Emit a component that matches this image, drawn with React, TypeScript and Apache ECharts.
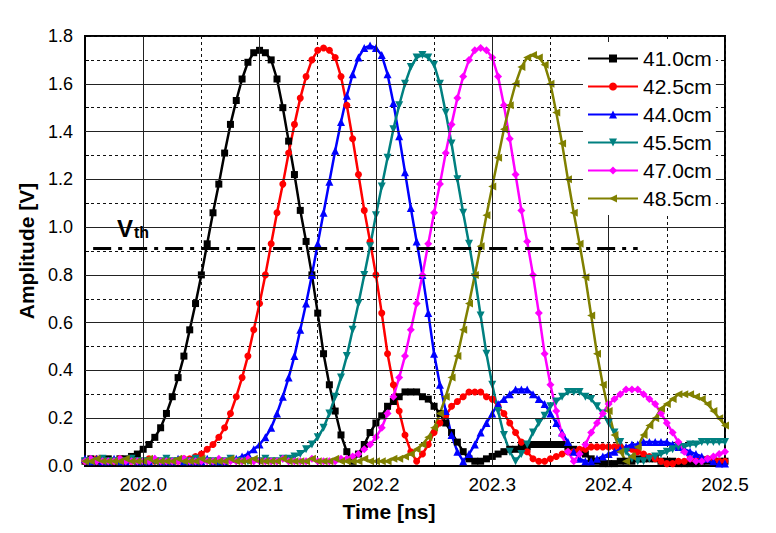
import React, { useEffect, useRef } from "react";
import * as echarts from "echarts";

// sampling grid [ns]
const times = [
  201.95, 201.955, 201.96, 201.965, 201.97, 201.975, 201.98, 201.985, 201.99, 201.995,
  202.0, 202.005, 202.01, 202.015, 202.02, 202.025, 202.03, 202.035, 202.04, 202.045,
  202.05, 202.055, 202.06, 202.065, 202.07, 202.075, 202.08, 202.085, 202.09, 202.095,
  202.1, 202.105, 202.11, 202.115, 202.12, 202.125, 202.13, 202.135, 202.14, 202.145,
  202.15, 202.155, 202.16, 202.165, 202.17, 202.175, 202.18, 202.185, 202.19, 202.195,
  202.2, 202.205, 202.21, 202.215, 202.22, 202.225, 202.23, 202.235, 202.24, 202.245,
  202.25, 202.255, 202.26, 202.265, 202.27, 202.275, 202.28, 202.285, 202.29, 202.295,
  202.3, 202.305, 202.31, 202.315, 202.32, 202.325, 202.33, 202.335, 202.34, 202.345,
  202.35, 202.355, 202.36, 202.365, 202.37, 202.375, 202.38, 202.385, 202.39, 202.395,
  202.4, 202.405, 202.41, 202.415, 202.42, 202.425, 202.43, 202.435, 202.44, 202.445,
  202.45, 202.455, 202.46, 202.465, 202.47, 202.475, 202.48, 202.485, 202.49, 202.495,
  202.5,
];

const amp410 = [
  0.02, 0.03, 0.02, 0.02, 0.03, 0.02, 0.03, 0.03, 0.04, 0.05,
  0.07, 0.09, 0.12, 0.16, 0.22, 0.29, 0.37, 0.46, 0.57, 0.68,
  0.80, 0.93, 1.06, 1.18, 1.31, 1.43, 1.53, 1.62, 1.69, 1.73,
  1.74, 1.73, 1.70, 1.62, 1.50, 1.36, 1.22, 1.07, 0.94, 0.80,
  0.64, 0.47, 0.34, 0.23, 0.13, 0.06, 0.02, 0.05, 0.09, 0.14,
  0.18, 0.21, 0.25, 0.27, 0.29, 0.31, 0.31, 0.31, 0.29, 0.28,
  0.25, 0.22, 0.18, 0.14, 0.10, 0.06, 0.03, 0.02, 0.02, 0.03,
  0.04, 0.05, 0.06, 0.07, 0.07, 0.08, 0.08, 0.09, 0.09, 0.09,
  0.09, 0.09, 0.09, 0.08, 0.07, 0.06, 0.05, 0.03, 0.02, 0.01,
  0.01, 0.01, 0.02, 0.02, 0.02, 0.03, 0.03, 0.03, 0.03, 0.02,
  0.02, 0.02, 0.01, 0.01, 0.01, 0.01, 0.02, 0.02, 0.02, 0.02,
  0.02,
];

const amp425 = [
  0.02, 0.02, 0.03, 0.02, 0.02, 0.02, 0.03, 0.02, 0.02, 0.02,
  0.02, 0.03, 0.02, 0.02, 0.02, 0.02, 0.02, 0.03, 0.03, 0.04,
  0.05, 0.07, 0.09, 0.12, 0.16, 0.22, 0.29, 0.37, 0.46, 0.57,
  0.68, 0.80, 0.93, 1.06, 1.18, 1.31, 1.43, 1.54, 1.63, 1.70,
  1.74, 1.75, 1.74, 1.71, 1.63, 1.51, 1.37, 1.22, 1.07, 0.94,
  0.80, 0.64, 0.47, 0.34, 0.23, 0.13, 0.06, 0.02, 0.05, 0.09,
  0.14, 0.18, 0.21, 0.25, 0.27, 0.29, 0.31, 0.31, 0.31, 0.29,
  0.28, 0.25, 0.22, 0.18, 0.14, 0.10, 0.06, 0.03, 0.02, 0.02,
  0.03, 0.04, 0.05, 0.06, 0.06, 0.07, 0.07, 0.08, 0.08, 0.08,
  0.08, 0.08, 0.08, 0.07, 0.07, 0.06, 0.05, 0.04, 0.03, 0.02,
  0.01, 0.01, 0.02, 0.02, 0.03, 0.03, 0.03, 0.03, 0.03, 0.02,
  0.02,
];

const amp440 = [
  0.03, 0.02, 0.03, 0.02, 0.02, 0.03, 0.02, 0.02, 0.03, 0.02,
  0.02, 0.02, 0.03, 0.02, 0.02, 0.02, 0.03, 0.02, 0.02, 0.02,
  0.02, 0.03, 0.02, 0.02, 0.02, 0.03, 0.03, 0.04, 0.05, 0.07,
  0.09, 0.12, 0.16, 0.22, 0.29, 0.37, 0.46, 0.57, 0.68, 0.80,
  0.93, 1.06, 1.19, 1.32, 1.44, 1.55, 1.64, 1.71, 1.75, 1.76,
  1.75, 1.72, 1.64, 1.52, 1.38, 1.23, 1.08, 0.94, 0.80, 0.64,
  0.47, 0.34, 0.23, 0.13, 0.06, 0.02, 0.05, 0.09, 0.14, 0.18,
  0.22, 0.26, 0.28, 0.30, 0.32, 0.32, 0.32, 0.30, 0.28, 0.26,
  0.22, 0.18, 0.14, 0.10, 0.06, 0.03, 0.02, 0.02, 0.03, 0.04,
  0.05, 0.06, 0.07, 0.08, 0.09, 0.09, 0.10, 0.10, 0.10, 0.10,
  0.10, 0.09, 0.08, 0.07, 0.06, 0.05, 0.04, 0.03, 0.02, 0.01,
  0.01,
];

const amp455 = [
  0.02, 0.02, 0.02, 0.03, 0.02, 0.02, 0.02, 0.02, 0.03, 0.02,
  0.02, 0.02, 0.02, 0.02, 0.03, 0.02, 0.02, 0.02, 0.02, 0.03,
  0.02, 0.02, 0.02, 0.02, 0.02, 0.03, 0.02, 0.02, 0.02, 0.02,
  0.02, 0.03, 0.02, 0.02, 0.03, 0.03, 0.04, 0.05, 0.07, 0.09,
  0.12, 0.16, 0.22, 0.29, 0.37, 0.46, 0.57, 0.68, 0.80, 0.92,
  1.05, 1.17, 1.29, 1.41, 1.51, 1.60, 1.67, 1.71, 1.72, 1.71,
  1.68, 1.60, 1.48, 1.35, 1.20, 1.06, 0.93, 0.79, 0.63, 0.47,
  0.34, 0.23, 0.13, 0.06, 0.02, 0.05, 0.09, 0.14, 0.18, 0.21,
  0.25, 0.27, 0.29, 0.31, 0.31, 0.31, 0.29, 0.28, 0.25, 0.22,
  0.18, 0.14, 0.10, 0.06, 0.03, 0.02, 0.02, 0.03, 0.04, 0.05,
  0.06, 0.07, 0.08, 0.08, 0.09, 0.09, 0.10, 0.10, 0.10, 0.10,
  0.10,
];

const amp470 = [
  0.02, 0.03, 0.02, 0.02, 0.02, 0.02, 0.03, 0.02, 0.02, 0.02,
  0.02, 0.02, 0.03, 0.02, 0.02, 0.02, 0.02, 0.03, 0.02, 0.02,
  0.02, 0.02, 0.02, 0.03, 0.02, 0.02, 0.02, 0.02, 0.03, 0.02,
  0.02, 0.02, 0.02, 0.02, 0.03, 0.02, 0.02, 0.02, 0.02, 0.03,
  0.02, 0.02, 0.02, 0.02, 0.03, 0.03, 0.04, 0.05, 0.07, 0.09,
  0.12, 0.16, 0.22, 0.29, 0.37, 0.46, 0.57, 0.68, 0.80, 0.93,
  1.06, 1.18, 1.31, 1.43, 1.54, 1.63, 1.70, 1.74, 1.75, 1.74,
  1.71, 1.63, 1.51, 1.37, 1.22, 1.07, 0.94, 0.80, 0.64, 0.47,
  0.34, 0.23, 0.13, 0.06, 0.02, 0.05, 0.09, 0.14, 0.18, 0.22,
  0.26, 0.28, 0.30, 0.32, 0.32, 0.32, 0.30, 0.28, 0.26, 0.22,
  0.18, 0.14, 0.10, 0.06, 0.03, 0.02, 0.02, 0.03, 0.04, 0.05,
  0.06,
];

const amp485 = [
  0.02, 0.02, 0.03, 0.02, 0.02, 0.02, 0.02, 0.03, 0.02, 0.02,
  0.02, 0.03, 0.02, 0.02, 0.02, 0.02, 0.03, 0.02, 0.02, 0.02,
  0.03, 0.02, 0.02, 0.02, 0.02, 0.03, 0.02, 0.02, 0.02, 0.03,
  0.02, 0.02, 0.02, 0.02, 0.03, 0.02, 0.02, 0.02, 0.02, 0.03,
  0.02, 0.02, 0.02, 0.03, 0.02, 0.02, 0.02, 0.02, 0.03, 0.02,
  0.02, 0.02, 0.02, 0.03, 0.03, 0.04, 0.05, 0.07, 0.09, 0.12,
  0.16, 0.22, 0.29, 0.37, 0.46, 0.57, 0.68, 0.80, 0.92, 1.05,
  1.17, 1.29, 1.41, 1.51, 1.60, 1.67, 1.71, 1.72, 1.71, 1.68,
  1.60, 1.48, 1.35, 1.20, 1.06, 0.93, 0.79, 0.63, 0.47, 0.34,
  0.23, 0.13, 0.06, 0.02, 0.04, 0.08, 0.13, 0.17, 0.20, 0.24,
  0.26, 0.28, 0.30, 0.30, 0.30, 0.29, 0.28, 0.26, 0.23, 0.20,
  0.17,
];

const seriesNames = ["41.0cm", "42.5cm", "44.0cm", "45.5cm", "47.0cm", "48.5cm"];
const seriesValues = [amp410, amp425, amp440, amp455, amp470, amp485];
const seriesColors = ["#000000", "#ff0000", "#0000ff", "#008080", "#ff00ff", "#808000"];
const seriesSymbols = ["rect", "circle", "triangle", "triangle", "diamond", "triangle"];
const seriesSymbolRotate = [0, 0, 0, 180, 0, 90];
const seriesSymbolSize = [7, 7, 8, 8, 8, 8];

const xMajorTicks = [202.0, 202.1, 202.2, 202.3, 202.4];
const yMajorTicks = [0.2, 0.4, 0.6, 0.8, 1.0, 1.2, 1.4, 1.6];
const vthLevel = 0.91;
const vthStart = 201.957;
const vthEnd = 202.425;

const FONT = "'Liberation Sans', Arial, Helvetica, sans-serif";

export default function App() {
  const ref = useRef<HTMLDivElement>(null);

  useEffect(() => {
    if (!ref.current) return;
    const chart = echarts.init(ref.current, null, { renderer: "svg" });

    const dataSeries = seriesNames.map((name, s) => ({
      type: "line",
      name,
      data: times.map((t, i) => [t, seriesValues[s][i]]),
      symbol: seriesSymbols[s],
      symbolSize: seriesSymbolSize[s],
      symbolRotate: seriesSymbolRotate[s],
      showSymbol: true,
      lineStyle: { color: seriesColors[s], width: 2.5 },
      itemStyle: { color: seriesColors[s] },
      emphasis: { disabled: true },
      z: 3,
    }));

    const option = {
      animation: false,
      backgroundColor: "#ffffff",
      textStyle: { fontFamily: FONT },
      grid: {
        left: 85,
        right: 51,
        top: 36,
        bottom: 67,
        show: true,
        borderColor: "#000",
        borderWidth: 2,
        backgroundColor: "transparent",
      },
      legend: {
        data: seriesNames,
        orient: "vertical",
        left: 583,
        top: 42,
        padding: [6, 4, 6, 4],
        itemGap: 7,
        itemWidth: 50,
        itemHeight: 10,
        backgroundColor: "#ffffff",
        textStyle: { fontSize: 21, color: "#000", lineHeight: 18, fontFamily: FONT },
        z: 10,
      },
      xAxis: {
        type: "value",
        min: 201.95,
        max: 202.5,
        interval: 0.05,
        name: "Time [ns]",
        nameLocation: "middle",
        nameGap: 35,
        nameTextStyle: {
          fontSize: 21,
          fontWeight: "bold",
          color: "#000",
          fontFamily: FONT,
          padding: [0, 32, 0, 0],
        },
        axisLine: { show: true, lineStyle: { color: "#000", width: 2 } },
        axisTick: { show: true, inside: true, length: 4, lineStyle: { color: "#000" } },
        axisLabel: {
          fontSize: 19,
          color: "#000",
          margin: 9,
          fontFamily: FONT,
          formatter: (v: number) => (Math.round(v * 100) % 10 === 0 ? v.toFixed(1) : ""),
        },
        splitLine: { show: true, lineStyle: { type: [3, 3], color: "#111", width: 1 } },
      },
      yAxis: {
        type: "value",
        min: 0,
        max: 1.8,
        interval: 0.1,
        name: "Amplitude [V]",
        nameLocation: "middle",
        nameGap: 46,
        nameTextStyle: { fontSize: 21, fontWeight: "bold", color: "#000", fontFamily: FONT },
        axisLine: { show: true, lineStyle: { color: "#000", width: 2 } },
        axisTick: { show: true, inside: true, length: 4, lineStyle: { color: "#000" } },
        axisLabel: {
          fontSize: 18,
          color: "#000",
          margin: 12,
          fontFamily: FONT,
          formatter: (v: number) => (Math.round(v * 10) % 2 === 0 ? v.toFixed(1) : ""),
        },
        splitLine: { show: true, lineStyle: { type: [3, 3], color: "#111", width: 1 } },
      },
      graphic: [
        {
          type: "text",
          left: 117,
          top: 216,
          z: 20,
          style: {
            text: "{v|V}{t|th}",
            rich: {
              v: { fontSize: 24, fontWeight: "bold", fill: "#000", fontFamily: FONT, verticalAlign: "bottom", lineHeight: 24 },
              t: { fontSize: 16, fontWeight: "bold", fill: "#000", fontFamily: FONT, verticalAlign: "bottom", lineHeight: 20, padding: [0, 0, 0, 1] },
            },
          },
        },
      ],
      series: [
        {
          type: "line",
          name: "grid",
          data: [],
          silent: true,
          z: 1,
          markLine: {
            silent: true,
            animation: false,
            symbol: ["none", "none"],
            label: { show: false },
            lineStyle: { color: "#222", width: 1, type: "solid" },
            emphasis: { disabled: true },
            data: [
              ...xMajorTicks.map((x) => ({ xAxis: x })),
              ...yMajorTicks.map((y) => ({ yAxis: y })),
            ],
          },
        },
        ...dataSeries,
        {
          type: "line",
          name: "Vth",
          data: [
            [vthStart, vthLevel],
            [vthEnd, vthLevel],
          ],
          symbol: "none",
          silent: true,
          lineStyle: { color: "#000", width: 3, type: [18, 7, 4, 7] },
          z: 5,
        },
      ],
    };

    chart.setOption(option as any);
    return () => chart.dispose();
  }, []);

  return (
    <div
      ref={ref}
      style={{ position: "fixed", left: 0, top: 0, width: 776, height: 533, background: "#fff" }}
    />
  );
}
